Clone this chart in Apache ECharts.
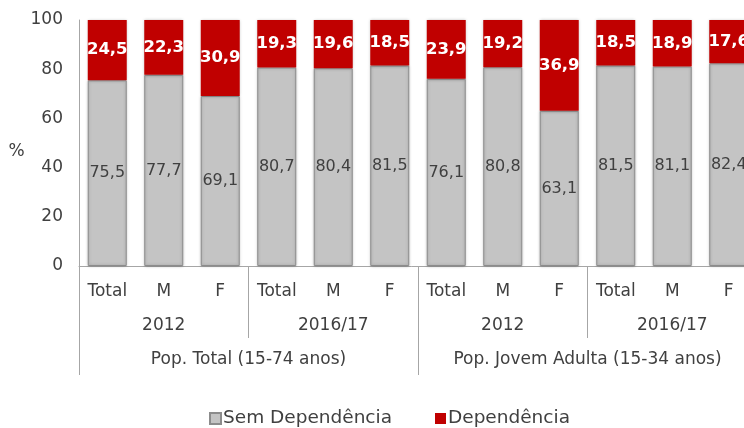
<!DOCTYPE html>
<html><head><meta charset="utf-8">
<script src="https://cdn.jsdelivr.net/npm/echarts@6/dist/echarts.min.js"></script>
<style>html,body{margin:0;padding:0;background:#fff}#c{width:744px;height:428px}</style>
</head><body><div id="c"></div>
<script>
const sexLabels = ['Total','M','F','Total','M','F','Total','M','F','Total','M','F'];
const periodLabels = ['2012','2016/17','2012','2016/17'];
const popLabels = ['Pop. Total (15-74 anos)','Pop. Jovem Adulta (15-34 anos)'];
const semDependencia = [75.5,77.7,69.1,80.7,80.4,81.5,76.1,80.8,63.1,81.5,81.1,82.4];
const dependencia = [24.5,22.3,30.9,19.3,19.6,18.5,23.9,19.2,36.9,18.5,18.9,17.6];
const yTicks = [0,20,40,60,80,100];

const FONT = 'DejaVu Sans';
const fmt = v => v.toFixed(1).replace('.', ',');
const chart = echarts.init(document.getElementById('c'));
chart.setOption({
  animation:false,
  textStyle:{fontFamily:FONT},
  grid: {left:79, top:20, width:678, bottom:162, outerBoundsMode:'none', containLabel:false},
  legend:{
    bottom:-5, left:204, itemWidth:11, itemHeight:11, itemGap:43,
    icon:'rect',
    textStyle:{fontFamily:FONT, fontSize:18.5, color:'#404040', padding:[0,0,0,-3]},
    data:['Sem Dependência','Dependência']
  },
  xAxis:[
    {type:'category', data:sexLabels, position:'bottom',
     axisLine:{show:true, lineStyle:{color:'#a6a6a6'}}, axisTick:{show:false},
     axisLabel:{interval:0, margin:17, fontSize:17, color:'#404040', fontFamily:FONT}},
    {type:'category', data:periodLabels, position:'bottom',
     axisLine:{show:false},
     axisTick:{show:true, length:72, interval:0, lineStyle:{color:'#a6a6a6'}},
     axisLabel:{interval:0, margin:51, fontSize:17, color:'#404040', fontFamily:FONT}},
    {type:'category', data:popLabels, position:'bottom',
     axisLine:{show:false},
     axisTick:{show:true, length:109, interval:0, lineStyle:{color:'#a6a6a6'}},
     axisLabel:{interval:0, margin:85, fontSize:17, color:'#404040', fontFamily:FONT}}
  ],
  yAxis:{
    type:'value', min:0, max:100, interval:20,
    name:'%', nameLocation:'middle', nameRotate:0, nameGap:52,
    nameTextStyle:{fontSize:17, color:'#404040', fontFamily:FONT, verticalAlign:'top'},
    axisLine:{show:true, lineStyle:{color:'#a6a6a6'}}, axisTick:{show:false},
    splitLine:{show:false},
    axisLabel:{margin:16, fontSize:17, color:'#404040', fontFamily:FONT,
      formatter: v => yTicks.includes(v) ? String(v) : ''}
  },
  series:[
    {name:'Sem Dependência', type:'bar', stack:'a', data:semDependencia, barCategoryGap:'31%',
     itemStyle:{color:'#c4c4c4', borderColor:'#8c8c8c', borderWidth:1, shadowBlur:3, shadowColor:'rgba(0,0,0,0.25)'},
     label:{show:true, position:'inside', fontSize:16, color:'#404040', fontFamily:FONT,
       formatter:p=>fmt(p.value)}},
    {name:'Dependência', type:'bar', stack:'a', data:dependencia, barCategoryGap:'31%',
     itemStyle:{color:'#c00000', shadowBlur:3, shadowColor:'rgba(0,0,0,0.25)'},
     label:{show:true, position:'inside', fontSize:16.5, fontWeight:'bold', color:'#ffffff', fontFamily:FONT,
       formatter:p=>fmt(p.value)}}
  ]
});
</script></body></html>
